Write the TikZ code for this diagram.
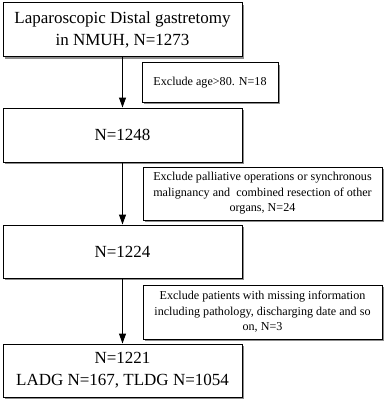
\documentclass[tikz,border=0pt]{standalone}
\usepackage{fontspec}
\setmainfont{Liberation Serif}
\usetikzlibrary{arrows.meta,shadows}
\begin{document}
\begin{tikzpicture}[x=1pt,y=-1pt,
  box/.style={draw=black, line width=1pt, fill=white, inner sep=0pt, align=center,
    drop shadow={shadow xshift=1.8pt, shadow yshift=-1.8pt, fill=black!45, opacity=1}},
  mainbox/.style={box, minimum width=239pt, font=\fontsize{17}{22}\selectfont},
  sidebox/.style={box, font=\fontsize{12.1}{15.5}\selectfont},
  arr/.style={line width=1pt, -{Triangle[length=10pt,width=7pt]}}]
\useasboundingbox (0,0) rectangle (388,404);
\node[mainbox, minimum height=54pt] (b1) at (122.5,30) {Laparoscopic Distal gastretomy\\in NMUH, N=1273};
\node[mainbox, minimum height=54pt] (b2) at (122.5,135) {N=1248};
\node[mainbox, minimum height=53pt] (b3) at (122.5,251.5) {N=1224};
\node[mainbox, minimum height=53pt] (b4) at (122.5,370.5) {N=1221\\LADG N=167, TLDG N=1054};
\node[sidebox, minimum width=136pt, minimum height=39pt] (s1) at (210,82.5) {Exclude age>80. N=18};
\node[sidebox, minimum width=239pt, minimum height=53pt] (s2) at (262.5,193.5) {Exclude palliative operations or synchronous\\malignancy and\ \ combined resection of other\\organs, N=24};
\node[sidebox, minimum width=239pt, minimum height=54pt] (s3) at (262.5,312) {Exclude patients with missing information\\including pathology, discharging date and so\\on, N=3};
\draw[arr] (b1) -- (b2);
\draw[arr] (b2) -- (b3);
\draw[arr] (b3) -- (b4);
\end{tikzpicture}
\end{document}
